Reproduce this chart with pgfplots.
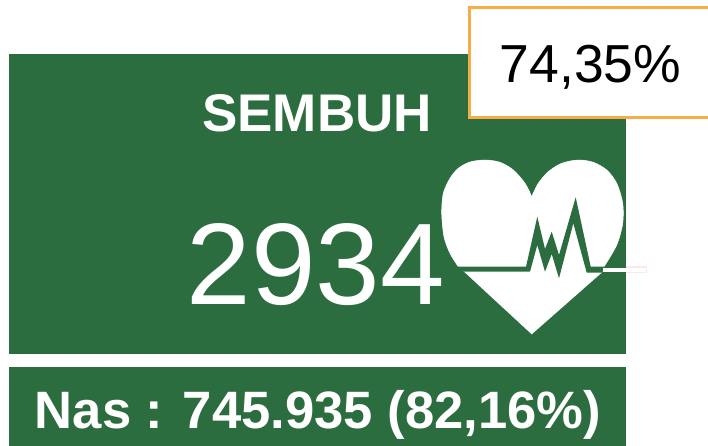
\documentclass[border=0pt]{standalone}
\usepackage{fontspec}
\setmainfont{Liberation Sans}
\usepackage{pgfplots}
\pgfplotsset{compat=1.18}
\definecolor{panel}{HTML}{2C6D3F}
\definecolor{boxline}{HTML}{F5AE45}
\definecolor{pink}{HTML}{FBE9E4}
\begin{document}
\begin{tikzpicture}
\begin{axis}[
  scale only axis,
  width=708pt, height=446pt,
  xmin=0, xmax=708,
  ymin=0, ymax=446,
  y dir=reverse,
  hide axis,
  clip=true,
]
  % green panels
  \addplot[fill=panel, draw=none] coordinates {(9,54) (626,54) (626,354) (9,354)} --cycle;
  \addplot[fill=panel, draw=none] coordinates {(9,367) (626,367) (626,447) (9,447)} --cycle;
  % heart: two lobes and the body, the body overlaps the lobes
  \addplot[smooth, fill=white, draw=white, line width=0.5pt] coordinates {
    (458.3,266.7) (450,253.3) (444,236.7) (441.7,213.3) (443.3,193.3) (450,178.3)
    (458.3,168.3) (470,162) (485,160) (500,162.3) (513.3,170) (525,183.3) (531.7,196.7)
  };
  \addplot[smooth, fill=white, draw=white, line width=0.5pt] coordinates {
    (531.7,196.7) (538.3,183.3) (548.3,171.7) (561.7,163.3) (578.3,160) (593.3,162.3)
    (606.7,170) (616.7,183.3) (622.7,203.3) (622.7,223.3) (616.7,245) (604,266.7)
  };
  \addplot[fill=white, draw=none] coordinates {
    (458.3,266.7) (455,200) (500,175) (531.7,196.7) (565,175) (610,200)
    (604,266.7) (601.7,272.7) (531.7,334.3) (464,271.7)
  } --cycle;
  % pulse across the heart
  \addplot[fill=panel, draw=none] coordinates {
    (456,266.7) (526,266.7) (537.3,216.7) (545,249) (551.7,231.7) (559,255) (575.7,197.3)
    (590.7,266.7) (605,266.7) (601.7,272.7) (586.7,272.7) (573.3,223.3) (559,278.3)
    (551.7,254) (545,271.7) (537.3,245) (530,271.7) (464,271.7)
  } --cycle;
  % line tail running out of the panel
  \addplot[fill=pink, draw=none] coordinates {(626,266.2) (647,266.2) (647,273.2) (626,273.2)} --cycle;
  \addplot[fill=white, draw=none] coordinates {(603,267.5) (646,267.5) (646,272) (603,272)} --cycle;
  % percentage box
  \addplot[fill=white, draw=boxline, line width=3pt] coordinates {(469,8) (720,8) (720,118) (469,118)} --cycle;

  \node[anchor=base, text=white, font=\fontsize{53}{53}\selectfont\bfseries] at (axis cs:317,132) {SEMBUH};
  \node[anchor=base, text=white, font=\fontsize{116}{116}\selectfont] at (axis cs:316,304) {2934};
  \node[anchor=base, text=black, font=\fontsize{53.5}{54}\selectfont] at (axis cs:590.5,83) {74,35\%};
  \node[anchor=base, text=white, font=\fontsize{52.6}{53}\selectfont\bfseries] at (axis cs:318,428) {Nas : 745.935 (82,16\%)};
\end{axis}
\path (0,0) rectangle (708pt,446pt);
\end{tikzpicture}
\end{document}
